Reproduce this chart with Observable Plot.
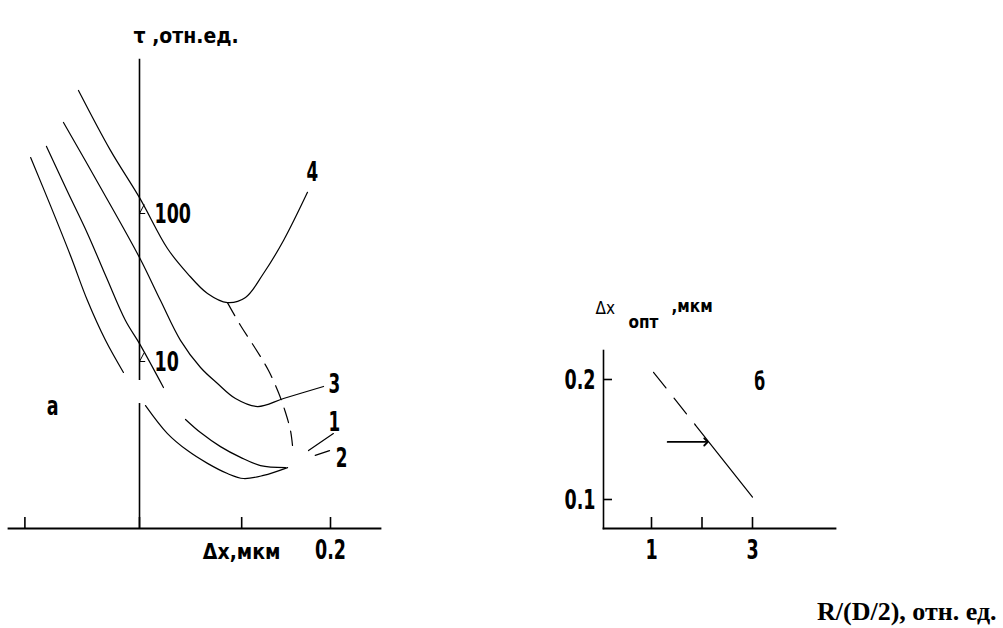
<!DOCTYPE html>
<html>
<head>
<meta charset="utf-8">
<script src="https://cdn.jsdelivr.net/npm/d3@7"></script>
<script src="https://cdn.jsdelivr.net/npm/@observablehq/plot@0.6"></script>
<style>
  html, body { margin: 0; padding: 0; background: #fff; }
  #wrap { position: relative; width: 1003px; height: 628px; overflow: hidden; background: #fff; }
  #left { position: absolute; left: 0; top: 0; }
  #right { position: absolute; left: 450px; top: 0; }
  #caption { position: absolute; left: 817px; top: 597px; font-family: 'Liberation Serif', 'Times New Roman', serif; font-weight: bold; font-size: 26px; color: #000; white-space: nowrap; line-height: 30px; }
</style>
</head>
<body>
<div id="wrap">
  <div id="left"></div>
  <div id="right"></div>
  <div id="caption">R/(D/2), отн. ед.</div>
</div>
<script>
// ---------- Panel "а": τ (rel. units, log) vs Δx (μm) ----------
const xTicksA = [-0.12, 0, 0.107, 0.2];
const xTickLabelsA = [0.2];
const yTicksA = [10, 100];

// curve 2, upper branch (left of axis break)
const c2upX   = [-0.114, -0.0932, -0.0723, -0.0545, -0.0356, -0.0168];
const c2upTau = [239, 113, 52.0, 25.8, 13.9, 8.43];
// curve 1, upper branch
const c1upX   = [-0.0974, -0.0764, -0.0545, -0.0346, -0.0147, 0, 0.0251];
const c1upTau = [284, 145, 73.3, 36.9, 18.9, 13.2, 6.67];
// curve 3
const c3X   = [-0.0796, -0.0408, 0, 0.022, 0.0429, 0.0639, 0.0817, 0.1005, 0.1236, 0.1508, 0.1927];
const c3Tau = [412, 150, 50.4, 25.8, 13.9, 9.11, 7.10, 5.62, 4.96, 5.62, 6.78];
// curve 4
const c4X   = [-0.0639, -0.0304, 0, 0.0293, 0.0503, 0.0712, 0.0921, 0.111, 0.1298, 0.1508, 0.1759];
const c4Tau = [678, 267, 128, 58.0, 39.3, 28.8, 25.0, 27.1, 39.3, 65.7, 139];
// curve 1, lower branch
const c1X   = [0.0482, 0.0639, 0.0848, 0.1058, 0.1267, 0.1529];
const c1Tau = [4.06, 3.31, 2.66, 2.25, 1.98, 1.92];
// curve 2, lower branch
const c2X   = [0.0063, 0.0293, 0.0503, 0.0712, 0.0921, 0.1089, 0.1298, 0.155];
const c2Tau = [5.04, 3.26, 2.50, 2.05, 1.75, 1.62, 1.70, 1.92];
// dashed locus of minima
const optX   = [0.0921, 0.1058, 0.1215, 0.1351, 0.1455, 0.1529, 0.1581, 0.1602];
const optTau = [25.0, 17.5, 12.2, 8.69, 6.17, 4.52, 3.42, 2.71];
// leader lines for labels 1 and 2
const lead1X = [0.177, 0.203], lead1Tau = [2.50, 3.26];
const lead2X = [0.184, 0.199], lead2Tau = [2.32, 2.50];

// vertical axis (with a break)
const axisSegFrom = [1100, 5.2];
const axisSegTo   = [7.45, 0.745];

// curve labels
const curveLabelText = ["4", "3", "1", "2"];
const curveLabelX    = [0.181, 0.204, 0.204, 0.2115];
const curveLabelTau  = [189, 7.0, 3.87, 2.21];
const panelLabelA = {text: "а", x: -0.091, tau: 4.96};

// ---------- Panel "б": Δx_opt (μm) vs R/(D/2) ----------
const xTicksB = [1, 2, 3];
const xTickLabelsB = [1, 3];
const yTicksB = [0.1, 0.2];
const dashX = [1.04, 1.87],  dashY = [0.206, 0.162];
const solidX = [1.87, 3.0],  solidY = [0.162, 0.102];
const horizX = [1.32, 2.08], horizY = [0.148, 0.148];
const panelLabelB = {text: "б", x: 3.14, y: 0.1975};

const FONT = "'Liberation Sans Narrow','Arial Narrow','DejaVu Sans Condensed',sans-serif";

const rows = (id, xs, ys) => xs.map((x, i) => ({id, x, y: ys[i]}));
const solidRowsA = [
  ...rows("2up", c2upX, c2upTau),
  ...rows("1up", c1upX, c1upTau),
  ...rows("3", c3X, c3Tau),
  ...rows("4", c4X, c4Tau),
  ...rows("1", c1X, c1Tau),
  ...rows("2", c2X, c2Tau)
];
const leaderRows = [...rows("l1", lead1X, lead1Tau), ...rows("l2", lead2X, lead2Tau)];
const optRows = rows("opt", optX, optTau);
const axisSegs = axisSegFrom.map((f, i) => ({y1: f, y2: axisSegTo[i]}));
const curveLabels = curveLabelText.map((t, i) => ({t, x: curveLabelX[i], y: curveLabelTau[i]}));

const W_A = 450, H = 628;
const left = Plot.plot({
  width: W_A, height: H,
  marginLeft: 8, marginRight: 70, marginTop: 59, marginBottom: 100,
  x: {domain: [0, 0.2], range: [139, 330], axis: null},
  y: {type: "log", domain: [10, 100], range: [361, 213], axis: null},
  style: {background: "transparent", overflow: "visible"},
  marks: [
    Plot.frame({anchor: "bottom", stroke: "black", strokeWidth: 1.8}),
    Plot.ruleX(xTicksA, {x: d => d, insetTop: 458, stroke: "black", strokeWidth: 1.6}),
    Plot.ruleX(axisSegs, {x: 0, y1: "y1", y2: "y2", stroke: "black", strokeWidth: 1.6}),
    Plot.ruleY(yTicksA, {y: d => d, x1: 0, x2: 0.0065, stroke: "black", strokeWidth: 1}),
    Plot.link(yTicksA, {x1: 0, y1: d => d, x2: 0.005, y2: d => d * 1.15, stroke: "black", strokeWidth: 1}),
    Plot.text(yTicksA, {x: 0, y: d => d, text: d => String(d), textAnchor: "start", dx: 15, dy: 1,
      fontFamily: FONT, fontWeight: "bold", fontSize: 27}),
    Plot.line(solidRowsA, {x: "x", y: "y", z: "id", curve: "catmull-rom", stroke: "black", strokeWidth: 1.2}),
    Plot.line(optRows, {x: "x", y: "y", curve: "catmull-rom", stroke: "black", strokeWidth: 1.2, strokeDasharray: "15,9"}),
    Plot.line(leaderRows, {x: "x", y: "y", z: "id", stroke: "black", strokeWidth: 1.2}),
    Plot.text(curveLabels, {x: "x", y: "y", text: "t", fontFamily: FONT, fontWeight: "bold", fontSize: 26}),
    Plot.text([panelLabelA], {x: "x", y: "tau", text: "text", fontFamily: FONT, fontWeight: "bold", fontSize: 27}),
    Plot.text(xTickLabelsA, {x: d => d, text: d => String(d), frameAnchor: "bottom", dy: 30,
      fontFamily: FONT, fontWeight: "bold", fontSize: 27}),
    Plot.text(["Δx,мкм"], {x: xTicksA[2], text: d => d, frameAnchor: "bottom", dy: 30,
      fontFamily: FONT, fontWeight: "bold", fontSize: 21}),
    Plot.text(["τ ,отн.ед."], {x: 0, text: d => d, frameAnchor: "top", textAnchor: "start", dx: -6, dy: -31,
      fontFamily: FONT, fontWeight: "bold", fontSize: 21})
  ]
});
document.getElementById("left").appendChild(left);

const W_B = 553;
const right = Plot.plot({
  width: W_B, height: H,
  marginLeft: 153, marginRight: 168, marginTop: 350, marginBottom: 100,
  x: {domain: [1, 3], range: [201, 302], axis: null},
  y: {domain: [0.1, 0.2], range: [499, 379], axis: null},
  style: {background: "transparent", overflow: "visible"},
  marks: [
    Plot.frame({anchor: "left", stroke: "black", strokeWidth: 1.6}),
    Plot.frame({anchor: "bottom", stroke: "black", strokeWidth: 1.8}),
    Plot.ruleX(xTicksB, {x: d => d, insetTop: 167, stroke: "black", strokeWidth: 1.6}),
    Plot.ruleY(yTicksB, {y: d => d, insetRight: 223, stroke: "black", strokeWidth: 1.6}),
    Plot.text(yTicksB, {y: d => d, text: d => String(d), frameAnchor: "left", textAnchor: "end", dx: -8, dy: 1,
      fontFamily: FONT, fontWeight: "bold", fontSize: 27}),
    Plot.text(xTickLabelsB, {x: d => d, text: d => String(d), frameAnchor: "bottom", dy: 30,
      fontFamily: FONT, fontWeight: "bold", fontSize: 27}),
    Plot.line(rows("dash", dashX, dashY), {x: "x", y: "y", stroke: "black", strokeWidth: 1.2, strokeDasharray: "20,13"}),
    Plot.line(rows("solid", solidX, solidY), {x: "x", y: "y", stroke: "black", strokeWidth: 1.2}),
    Plot.line(rows("h", horizX, horizY), {x: "x", y: "y", stroke: "black", strokeWidth: 1.8, markerEnd: "arrow"}),
    Plot.text([panelLabelB], {x: "x", y: "y", text: "text", fontFamily: FONT, fontWeight: "bold", fontSize: 24}),
    Plot.text(["Δx"], {text: d => d, frameAnchor: "top-left", textAnchor: "start", dx: -8, dy: -49,
      fontFamily: FONT, fontWeight: "normal", fontSize: 17}),
    Plot.text(["опт"], {text: d => d, frameAnchor: "top-left", textAnchor: "start", dx: 25, dy: -35,
      fontFamily: FONT, fontWeight: "bold", fontSize: 17}),
    Plot.text([",мкм"], {text: d => d, frameAnchor: "top-left", textAnchor: "start", dx: 68, dy: -51,
      fontFamily: FONT, fontWeight: "bold", fontSize: 17})
  ]
});
document.getElementById("right").appendChild(right);

// The reference uses a very narrow bold face; squeeze numeric / single-letter labels horizontally.
for (const svg of [left, right]) {
  svg.querySelectorAll("text").forEach(t => {
    const s = t.textContent.trim();
    if (/^[0-9.аб]+$/.test(s)) {
      const len = t.getComputedTextLength();
      if (len > 0) {
        t.setAttribute("textLength", (len * 0.72).toFixed(1));
        t.setAttribute("lengthAdjust", "spacingAndGlyphs");
      }
    }
  });
}
</script>
</body>
</html>
